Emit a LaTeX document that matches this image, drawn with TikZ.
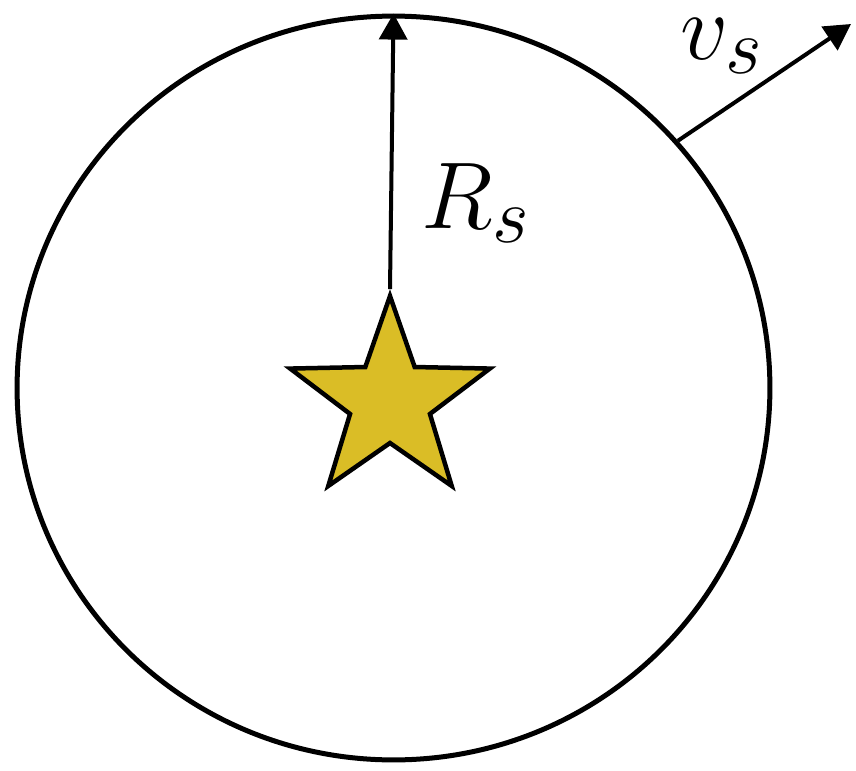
\documentclass[tikz,border=0pt]{standalone}
\usepackage{amsmath}
\usepackage{tikz}
\usetikzlibrary{arrows.meta, shapes.geometric}

\definecolor{stargold}{RGB}{218,189,38}
\newcommand{\biglbl}[1]{\scalebox{2.17}{\Huge$#1$}}

\begin{document}
\begin{tikzpicture}[
  x=0.02cm, y=-0.02cm,
  shellbox/.style={
    ellipse, draw=black, line width=0.1cm,
    minimum width=15.06cm, minimum height=14.88cm,
    inner sep=0pt
  },
  starbox/.style={
    star, star points=5, star point ratio=2.5,
    draw=black, fill=stargold, line width=0.09cm,
    minimum size=4.2cm, inner sep=0pt
  },
  lbl/.style={inner sep=0pt, anchor=base west},
  arr/.style={-{Triangle[length=0.52cm, width=0.56cm]}, line width=0.08cm, black}
]
  \useasboundingbox (0,0) rectangle (856,771);

  \node[shellbox] (shell) at (393.5,388) {};
  \node[starbox]  (sun)   at (390,401)   {};
  \coordinate (vtip) at (851,24);

  \node[lbl] (rlabel) at (421,228) {\biglbl{R_s}};
  \node[lbl] (vlabel) at (680,59)  {\biglbl{v_s}};

  \draw[arr] (sun.north)  -- (shell.north);
  \draw[arr] (shell.41.3) -- (vtip);
\end{tikzpicture}
\end{document}
